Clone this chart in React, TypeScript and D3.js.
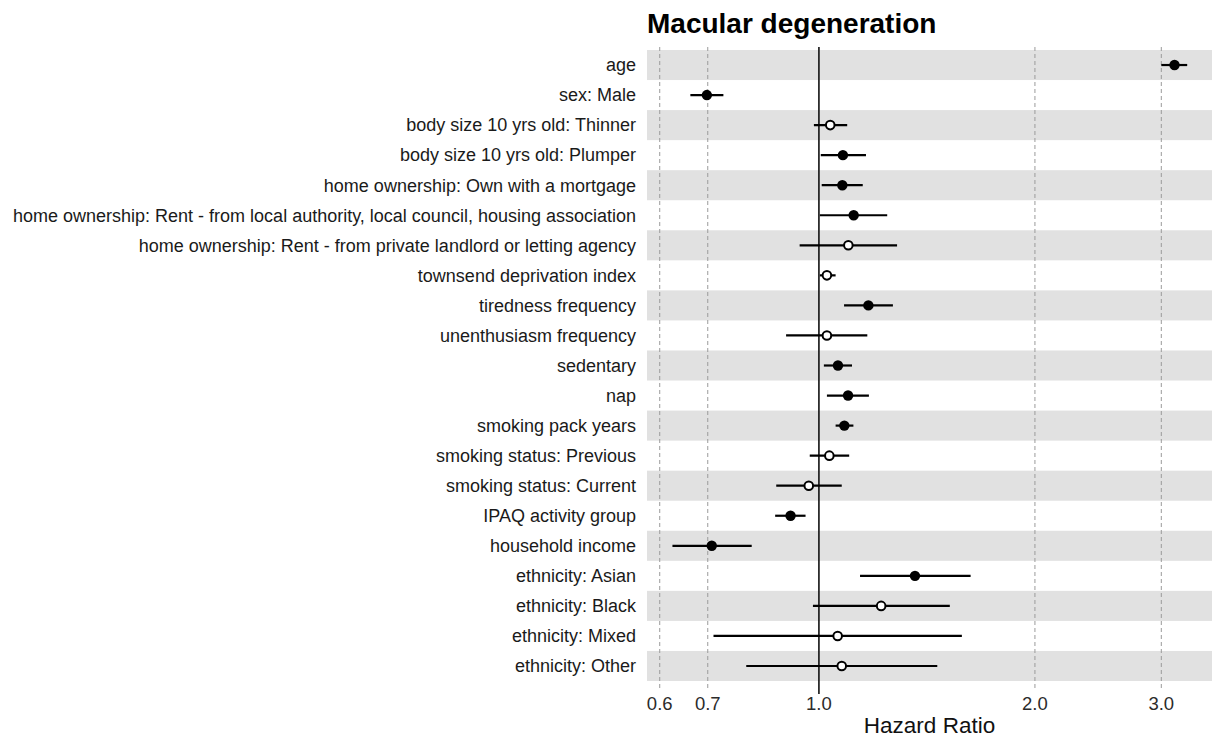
import { useEffect, useRef } from 'react';
import * as d3 from 'd3';

const labels = [
  'age',
  'sex: Male',
  'body size 10 yrs old: Thinner',
  'body size 10 yrs old: Plumper',
  'home ownership: Own with a mortgage',
  'home ownership: Rent - from local authority, local council, housing association',
  'home ownership: Rent - from private landlord or letting agency',
  'townsend deprivation index',
  'tiredness frequency',
  'unenthusiasm frequency',
  'sedentary',
  'nap',
  'smoking pack years',
  'smoking status: Previous',
  'smoking status: Current',
  'IPAQ activity group',
  'household income',
  'ethnicity: Asian',
  'ethnicity: Black',
  'ethnicity: Mixed',
  'ethnicity: Other',
];

const hr = [3.13, 0.698, 1.037, 1.080, 1.078, 1.118, 1.099, 1.026, 1.172, 1.026, 1.063, 1.098, 1.085, 1.034, 0.968, 0.913, 0.709, 1.361, 1.221, 1.062, 1.076];
const lower = [3.0, 0.662, 0.984, 1.006, 1.009, 1.003, 0.940, 1.003, 1.084, 0.900, 1.016, 1.026, 1.055, 0.971, 0.872, 0.869, 0.625, 1.141, 0.981, 0.713, 0.792];
const upper = [3.26, 0.736, 1.095, 1.163, 1.151, 1.245, 1.285, 1.055, 1.268, 1.168, 1.112, 1.174, 1.117, 1.102, 1.076, 0.958, 0.806, 1.627, 1.522, 1.582, 1.462];
// significant = filled dot
const significant = [true, true, false, true, true, true, false, false, true, false, true, true, true, false, false, true, true, true, false, false, false];

const tickValues = [0.6, 0.7, 1.0, 2.0, 3.0];

export default function App() {
  const svgRef = useRef<SVGSVGElement>(null);

  useEffect(() => {
    document.body.style.margin = '0';
    if (!svgRef.current) return;
    const svg = d3.select(svgRef.current);
    svg.selectAll('*').remove();

    const left = 647;
    const right = 1212;
    const bandTop = 50;
    const bandBottom = 681;
    const font = 'Liberation Sans, Arial, sans-serif';

    const x = d3.scaleLog().domain([0.576, 3.53]).range([left, right]);
    const y = d3.scaleBand<string>().domain(labels).range([bandTop, bandBottom]).padding(0);

    // alternating bands
    svg.append('g')
      .selectAll('rect')
      .data(labels.filter((_, i) => i % 2 === 0))
      .join('rect')
      .attr('x', left)
      .attr('width', right - left)
      .attr('y', d => y(d)!)
      .attr('height', y.bandwidth())
      .attr('fill', '#e1e1e1');

    // dashed grid
    svg.append('g')
      .selectAll('line')
      .data(tickValues.filter(v => v !== 1))
      .join('line')
      .attr('x1', d => x(d)).attr('x2', d => x(d))
      .attr('y1', bandTop - 3).attr('y2', bandBottom + 9)
      .attr('stroke', '#9a9a9a')
      .attr('stroke-width', 1)
      .attr('stroke-dasharray', '4,3');

    // reference line at 1
    svg.append('line')
      .attr('x1', x(1)).attr('x2', x(1))
      .attr('y1', bandTop - 3).attr('y2', bandBottom + 13)
      .attr('stroke', '#111')
      .attr('stroke-width', 1.6);

    const rows = labels.map((label, i) => ({ label, hr: hr[i], lo: lower[i], hi: upper[i], sig: significant[i] }));

    const g = svg.append('g');
    g.selectAll('line.ci')
      .data(rows)
      .join('line')
      .attr('class', 'ci')
      .attr('x1', d => x(d.lo)).attr('x2', d => x(d.hi))
      .attr('y1', d => y(d.label)! + y.bandwidth() / 2)
      .attr('y2', d => y(d.label)! + y.bandwidth() / 2)
      .attr('stroke', '#000')
      .attr('stroke-width', 2.2);

    g.selectAll('circle')
      .data(rows)
      .join('circle')
      .attr('cx', d => x(d.hr))
      .attr('cy', d => y(d.label)! + y.bandwidth() / 2)
      .attr('r', d => (d.sig ? 5.2 : 4.3))
      .attr('fill', d => (d.sig ? '#000' : '#fff'))
      .attr('stroke', '#000')
      .attr('stroke-width', d => (d.sig ? 0 : 2));

    // y labels
    svg.append('g')
      .selectAll('text')
      .data(labels)
      .join('text')
      .attr('x', 636)
      .attr('y', d => y(d)! + y.bandwidth() / 2)
      .attr('dy', '0.35em')
      .attr('text-anchor', 'end')
      .attr('font-family', font)
      .attr('font-size', 18)
      .attr('fill', '#1a1a1a')
      .text(d => d);

    // x tick labels
    svg.append('g')
      .selectAll('text')
      .data(tickValues)
      .join('text')
      .attr('x', d => x(d))
      .attr('y', 710)
      .attr('text-anchor', 'middle')
      .attr('font-family', font)
      .attr('font-size', 18.5)
      .attr('fill', '#2b2b2b')
      .text(d => d3.format('.1f')(d));

    svg.append('text')
      .attr('x', (left + right) / 2)
      .attr('y', 733)
      .attr('text-anchor', 'middle')
      .attr('font-family', font)
      .attr('font-size', 22.5)
      .attr('fill', '#111')
      .text('Hazard Ratio');

    svg.append('text')
      .attr('x', left)
      .attr('y', 33)
      .attr('font-family', font)
      .attr('font-weight', 'bold')
      .attr('font-size', 28)
      .attr('fill', '#000')
      .text('Macular degeneration');
  }, []);

  return <svg ref={svgRef} width={1214} height={740} style={{ display: 'block' }} />;
}
